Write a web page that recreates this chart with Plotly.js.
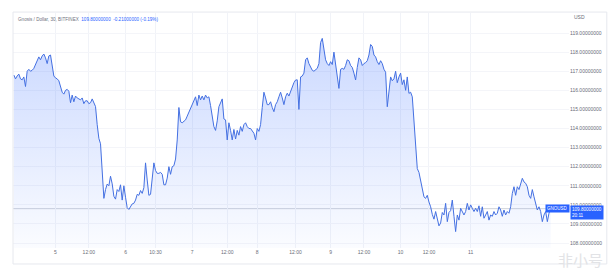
<!DOCTYPE html>
<html>
<head>
<meta charset="utf-8">
<script src="https://cdn.plot.ly/plotly-3.0.1.min.js"></script>
<style>html,body{margin:0;padding:0;background:#fff;}#chart{width:616px;height:272px;}</style>
</head>
<body>
<div id="chart"></div>
<script>
// Close prices per bar (Gnosis / Dollar, 30 min, BITFINEX)
const prices = [
116.8,116.6,116.75,116.85,116.6,116.55,116.7,116.2,117.0,117.1,
117.0,117.05,117.15,117.35,117.6,117.75,117.6,117.8,117.9,117.7,
117.4,117.8,117.85,117.3,116.75,116.65,116.6,116.5,116.2,115.9,
115.8,116.0,116.05,115.95,115.35,115.75,115.4,115.7,115.6,115.55,
115.5,115.6,115.3,115.45,115.45,115.3,115.35,115.55,115.3,115.15,
114.2,113.48,113.2,111.5,110.34,110.8,111.09,111.0,111.5,111.1,
110.45,110.3,110.8,
110.7,111.05,110.25,111.0,110.4,109.85,109.76,109.95,110.05,110.08,
110.25,110.55,110.5,110.75,110.6,110.9,112.2,111.3,110.5,110.55,
111.4,112.2,111.8,111.65,111.65,111.7,111.6,111.05,111.05,111.4,
112.0,111.6,112.0,112.05,112.4,113.4,115.1,114.35,114.3,114.4,
114.45,114.65,114.85,115.0,115.25,115.45,115.66,115.2,115.75,115.5,
115.7,115.5,115.75,115.6,115.66,115.2,114.6,114.1,113.9,114.4,
115.14,115.35,115.55,114.5,114.45,
113.4,114.3,113.9,113.4,113.95,113.45,113.9,113.65,114.1,113.85,
114.2,114.3,114.1,114.0,114.0,113.85,113.75,113.4,114.0,113.85,
114.2,115.1,115.9,115.6,115.25,115.25,115.4,115.1,114.88,115.25,
115.4,115.66,115.9,115.6,115.25,115.66,115.85,115.7,115.95,116.2,
116.4,116.54,116.55,115.0,116.7,116.75,116.9,117.6,117.7,117.4,
117.25,117.05,117.0,117.1,117.15,117.4,118.5,118.72,118.0,117.6,
117.4,117.3,117.5,117.35,118.0,
117.4,116.8,116.1,117.1,117.15,117.1,117.3,117.6,117.55,117.3,
117.2,116.9,116.54,117.2,117.7,117.6,117.3,117.4,117.45,117.55,
117.85,118.4,118.3,117.85,117.75,117.5,117.35,117.55,117.4,117.1,
116.95,115.14,116.1,116.7,116.5,116.6,117.0,116.4,116.7,116.9,
116.3,116.55,116.0,116.7,115.84,115.9,115.66,114.27,112.87,111.9,
111.7,111.3,110.95,110.42,110.34,110.5,110.15,109.9,109.5,109.25,
109.65,109.2,108.9,109.05,109.6,
109.47,110.08,109.12,109.6,109.7,110.25,109.4,108.6,109.47,109.2,
109.82,109.65,109.47,109.65,110.08,109.73,110.0,109.82,109.65,109.82,
109.65,109.95,109.4,109.9,109.3,109.47,109.65,109.2,109.47,109.4,
109.65,109.47,109.56,109.9,109.73,109.4,109.73,109.47,109.65,109.56,
109.9,110.6,110.95,110.5,110.95,110.8,111.13,111.39,111.2,111.13,
110.95,110.5,110.34,110.8,110.42,110.08,109.73,109.9,109.65,109.12,
109.47,109.65,109.12,109.56,109.8
];
// Bar index of each time-axis label and its text
const tickBars = [25,45,67,85,107,128,146,169,190,210,232,249,274];
const tickLabels = ["5","12:00","6","10:30","7","12:00","8","12:00","9","12:00","10","12:00","11"];
// Price-axis ticks
const priceTicks = [108,109,110,111,112,113,114,115,116,117,118,119];
const symbol = "GNOUSD";
const titleText = "Gnosis / Dollar, 30, BITFINEX";
const lastPriceText = "109.80000000";
const changeText = "-0.21000000 (-0.19%)";
const countdown = "20:11";

const bars = prices.map((_, i) => i);
const lastPrice = prices[prices.length - 1];
const BLUE = '#2962ff';
const FONT = 'Liberation Sans, Arial, sans-serif';

const trace = {
  type: 'scatter', mode: 'lines', x: bars, y: prices,
  line: {color: '#4470e2', width: 1},
  fill: 'tozeroy',
  fillgradient: {type: 'vertical', start: 107.74, stop: 119,
    colorscale: [[0, 'rgba(41,98,255,0.02)'], [1, 'rgba(41,98,255,0.25)']]},
  hoverinfo: 'skip'
};

const layout = {
  width: 616, height: 272,
  margin: {l: 13, r: 47, t: 13, b: 24},
  paper_bgcolor: '#ffffff', plot_bgcolor: '#ffffff',
  showlegend: false,
  font: {family: FONT, size: 5, color: '#6a6d78'},
  xaxis: {
    range: [-0.5, 333], tickvals: tickBars, ticktext: tickLabels,
    showgrid: true, gridcolor: '#f1f3f8', gridwidth: 1,
    zeroline: false, showline: false, ticks: '',
    tickfont: {family: FONT, size: 5, color: '#6a6d78'}
  },
  yaxis: {
    side: 'right', range: [107.74, 120.05],
    tickvals: priceTicks, ticktext: priceTicks.map(v => v.toFixed(8)),
    showgrid: true, gridcolor: '#f4f5f9', gridwidth: 1,
    zeroline: false, showline: false, ticks: '',
    tickfont: {family: FONT, size: 5, color: '#6a6d78'}
  },
  shapes: [
    {type: 'line', xref: 'paper', x0: 0, x1: 1, yref: 'y', y0: lastPrice, y1: lastPrice,
     line: {color: '#cfd2da', width: 1}, layer: 'below'},
    {type: 'rect', xref: 'paper', yref: 'paper', x0: 0, x1: 1.068, y0: -0.068, y1: 1.004,
     line: {color: '#e6e8ee', width: 1}, fillcolor: 'rgba(0,0,0,0)'}
  ],
  annotations: [
    {xref: 'paper', yref: 'paper', x: 0.006, y: 0.974, xanchor: 'left', yanchor: 'middle',
     showarrow: false, font: {family: FONT, size: 4.6, color: '#6f7380'},
     text: titleText + '  <span style="color:' + BLUE + '">' + lastPriceText + '  ' + changeText + '</span>'},
    {xref: 'paper', yref: 'paper', x: 1.0054, y: 0.983, xanchor: 'left', yanchor: 'middle',
     showarrow: false, font: {family: FONT, size: 5, color: '#6a6d78'}, text: 'USD'},
    {xref: 'paper', yref: 'y', x: 0.979, y: lastPrice, xanchor: 'center', yanchor: 'middle',
     showarrow: false, bgcolor: BLUE, borderpad: 1,
     font: {family: FONT, size: 4.5, color: '#ffffff'}, text: symbol},
    {xref: 'paper', yref: 'y', x: 1.0315, y: lastPrice, xanchor: 'center', yanchor: 'top', yshift: 4,
     showarrow: false, bgcolor: BLUE, borderpad: 1, align: 'left',
     font: {family: FONT, size: 4.6, color: '#ffffff'}, text: lastPriceText + '<br>' + countdown},
    {xref: 'paper', yref: 'paper', x: 1.02, y: -0.05, xanchor: 'center', yanchor: 'middle',
     showarrow: false, font: {family: 'Noto Sans CJK SC', size: 15, color: '#e2e3e6'}, text: '非小号'}
  ]
};

Plotly.newPlot('chart', [trace], layout, {staticPlot: true, displayModeBar: false});
</script>
</body>
</html>
